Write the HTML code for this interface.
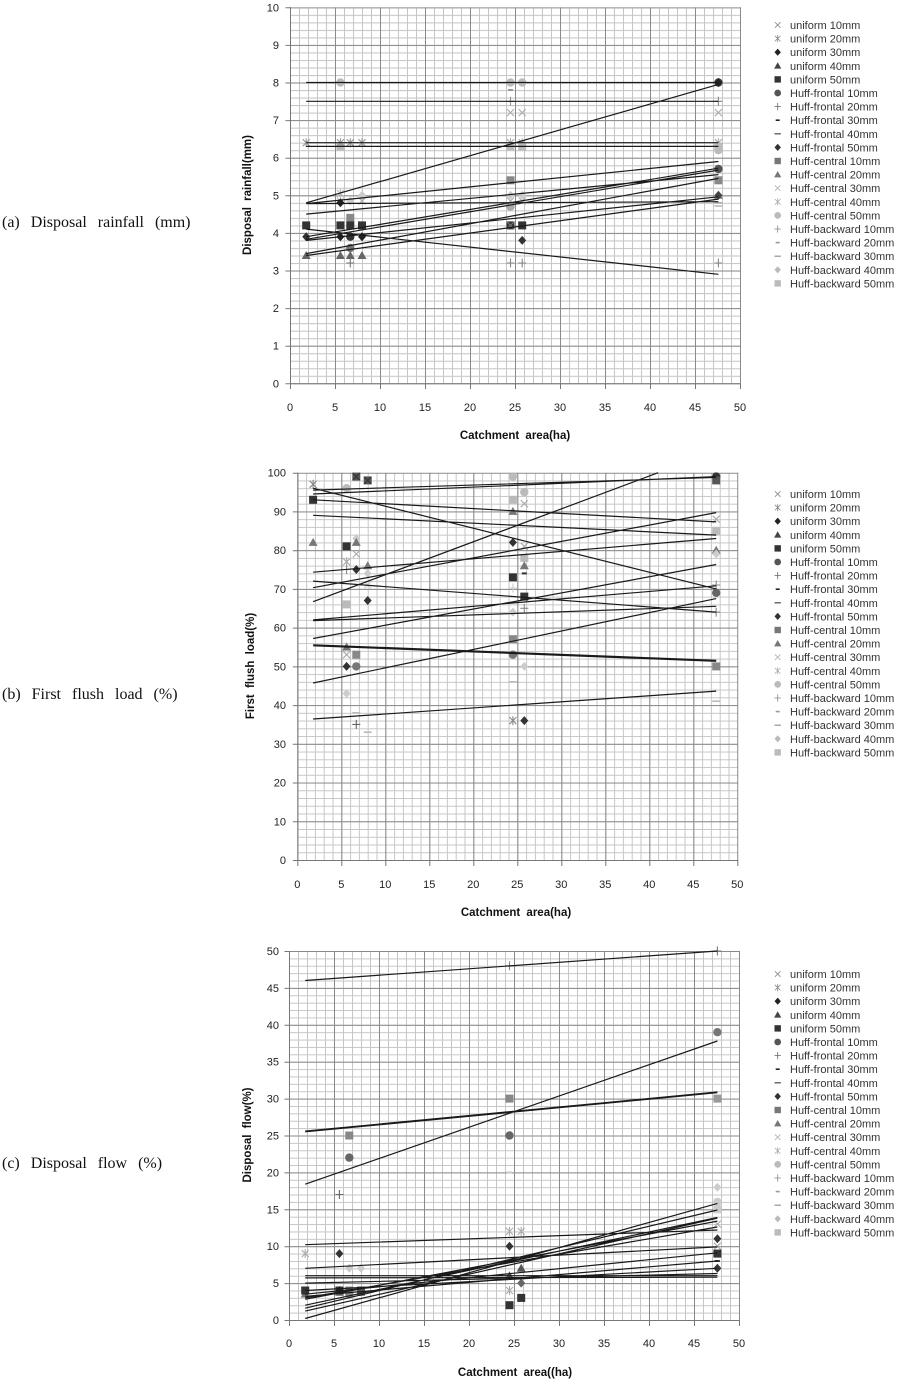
<!DOCTYPE html>
<html><head><meta charset="utf-8"><style>
html,body{margin:0;padding:0;background:#fff;}
svg{display:block;}
.tk{font-family:"Liberation Sans",sans-serif;font-size:11px;fill:#222;}
.tt{font-family:"Liberation Sans",sans-serif;font-size:11.5px;font-weight:bold;fill:#111;word-spacing:3px;}
.lg{font-family:"Liberation Sans",sans-serif;font-size:11px;fill:#333;}
.cap{font-family:"Liberation Serif",serif;font-size:16px;fill:#111;word-spacing:7px;}
</style></head><body>
<svg width="904" height="1380" viewBox="0 0 904 1380" xmlns="http://www.w3.org/2000/svg" xmlns:xlink="http://www.w3.org/1999/xlink">
<defs>
<pattern id="mna" x="290" y="7.3" width="9" height="7.52" patternUnits="userSpaceOnUse"><path d="M0.5,0V7.52M0,0.5H9" stroke="#c6c6c6" fill="none"/></pattern>
<pattern id="mja" x="290" y="7.3" width="45" height="37.6" patternUnits="userSpaceOnUse"><path d="M0.5,0V37.6M0,0.5H45" stroke="#8a8a8a" fill="none"/></pattern>
<pattern id="mnb" x="297.3" y="472.7" width="8.8" height="7.746" patternUnits="userSpaceOnUse"><path d="M0.5,0V7.746M0,0.5H8.8" stroke="#c6c6c6" fill="none"/></pattern>
<pattern id="mjb" x="297.3" y="472.7" width="44" height="38.73" patternUnits="userSpaceOnUse"><path d="M0.5,0V38.73M0,0.5H44" stroke="#8a8a8a" fill="none"/></pattern>
<pattern id="mnc" x="289" y="951" width="9" height="7.38" patternUnits="userSpaceOnUse"><path d="M0.5,0V7.38M0,0.5H9" stroke="#c6c6c6" fill="none"/></pattern>
<pattern id="mjc" x="289" y="951" width="45" height="36.9" patternUnits="userSpaceOnUse"><path d="M0.5,0V36.9M0,0.5H45" stroke="#8a8a8a" fill="none"/></pattern>
<path id="X" d="M-3.5,-3.5L3.5,3.5M-3.5,3.5L3.5,-3.5" fill="none"/>
<path id="A" d="M-3.5,-3.5L3.5,3.5M-3.5,3.5L3.5,-3.5M0,-4.5V4.5" fill="none"/>
<polygon id="D" points="0,-4.5 4,0 0,4.5 -4,0"/>
<polygon id="T" points="0,-4.5 4.5,3.5 -4.5,3.5"/>
<rect id="S" x="-4" y="-4" width="8" height="8"/>
<circle id="C" r="4.2"/>
<path id="P" d="M-4,0H4M0,-4.5V4.5" fill="none"/>
<rect id="d" x="-2.5" y="-1" width="5" height="2"/>
<rect id="L" x="-4" y="-0.8" width="8" height="1.6"/>
</defs>

<!-- captions -->
<text class="cap" x="2" y="227">(a) Disposal rainfall (mm)</text>
<text class="cap" x="2" y="699">(b) First flush load (%)</text>
<text class="cap" x="2" y="1168">(c) Disposal flow (%)</text>

<!-- ============ CHART A ============ -->
<rect x="290" y="7.3" width="451" height="377" fill="url(#mna)"/>
<rect x="290" y="7.3" width="451" height="377" fill="url(#mja)"/>
<path d="M290.5,7.3V384M290,383.8H741" stroke="#777" fill="none"/>
<path d="M290.5,384v5M335.5,384v5M380.5,384v5M425.5,384v5M470.5,384v5M515.5,384v5M560.5,384v5M605.5,384v5M650.5,384v5M695.5,384v5M740.5,384v5M285.5,7.8h5M285.5,45.4h5M285.5,83h5M285.5,120.6h5M285.5,158.2h5M285.5,195.8h5M285.5,233.4h5M285.5,271h5M285.5,308.6h5M285.5,346.2h5M285.5,383.8h5" stroke="#777" fill="none"/>
<g class="tk" text-anchor="end">
<text x="279" y="11.3">10</text><text x="279" y="48.9">9</text><text x="279" y="86.5">8</text><text x="279" y="124.1">7</text><text x="279" y="161.7">6</text><text x="279" y="199.3">5</text><text x="279" y="236.9">4</text><text x="279" y="274.5">3</text><text x="279" y="312.1">2</text><text x="279" y="349.7">1</text><text x="279" y="387.3">0</text>
</g>
<g class="tk" text-anchor="middle">
<text x="290" y="411">0</text><text x="335" y="411">5</text><text x="380" y="411">10</text><text x="425" y="411">15</text><text x="470" y="411">20</text><text x="515" y="411">25</text><text x="560" y="411">30</text><text x="605" y="411">35</text><text x="650" y="411">40</text><text x="695" y="411">45</text><text x="740" y="411">50</text>
</g>
<text class="tt" x="515" y="439" text-anchor="middle">Catchment area(ha)</text>
<text class="tt" transform="translate(251,195) rotate(-90)" text-anchor="middle">Disposal rainfall(mm)</text>

<g stroke-width="1.1">
<use href="#A" x="306.2" y="142.7" stroke="#999"/>
<use href="#S" x="306.2" y="225.4" fill="#333"/>
<use href="#D" x="306.2" y="236.7" fill="#333"/>
<use href="#T" x="306.2" y="255.5" fill="#666"/>

<use href="#C" x="340.4" y="82.5" fill="#bbb"/>
<use href="#S" x="340.4" y="146.4" fill="#bbb"/>
<use href="#A" x="340.4" y="142.7" stroke="#999"/>
<use href="#A" x="340.4" y="193.4" stroke="#bbb"/>
<use href="#X" x="340.4" y="201" stroke="#bbb"/>
<use href="#D" x="340.4" y="202.8" fill="#222"/>
<use href="#S" x="340.4" y="225.4" fill="#333"/>
<use href="#D" x="340.4" y="236.7" fill="#222"/>
<use href="#T" x="340.4" y="255.5" fill="#666"/>

<use href="#A" x="350.3" y="142.7" stroke="#999"/>
<use href="#D" x="350.3" y="201" fill="#ccc"/>
<use href="#S" x="350.3" y="217.9" fill="#888"/>
<use href="#S" x="350.3" y="225.4" fill="#333"/>
<use href="#C" x="350.3" y="236.7" fill="#333"/>
<use href="#C" x="350.3" y="248" fill="#777"/>
<use href="#T" x="350.3" y="255.5" fill="#666"/>
<use href="#P" x="350.3" y="263" stroke="#777"/>

<use href="#A" x="362" y="142.7" stroke="#999"/>
<use href="#D" x="362" y="195.3" fill="#ccc"/>
<use href="#X" x="362" y="201" stroke="#aaa"/>
<use href="#S" x="362" y="225.4" fill="#333"/>
<use href="#D" x="362" y="236.7" fill="#222"/>
<use href="#T" x="362" y="255.5" fill="#666"/>

<use href="#C" x="510.5" y="82.5" fill="#bbb"/>
<use href="#d" x="510.5" y="90" fill="#999"/>
<use href="#P" x="510.5" y="101.3" stroke="#999"/>
<use href="#X" x="510.5" y="112.6" stroke="#aaa"/>
<use href="#A" x="510.5" y="142.7" stroke="#aaa"/>
<use href="#S" x="510.5" y="146.4" fill="#bbb"/>
<use href="#S" x="510.5" y="180.3" fill="#888"/>
<use href="#D" x="510.5" y="195.3" fill="#ccc"/>
<use href="#X" x="510.5" y="201" stroke="#aaa"/>
<use href="#C" x="510.5" y="206.6" fill="#aaa"/>
<use href="#S" x="510.5" y="225.4" fill="#333"/>
<use href="#X" x="510.5" y="225.4" stroke="#777"/>
<use href="#P" x="510.5" y="263" stroke="#888"/>

<use href="#C" x="522.2" y="82.5" fill="#bbb"/>
<use href="#X" x="522.2" y="112.6" stroke="#aaa"/>
<use href="#A" x="522.2" y="142.7" stroke="#aaa"/>
<use href="#S" x="522.2" y="146.4" fill="#bbb"/>
<use href="#D" x="522.2" y="195.3" fill="#ccc"/>
<use href="#X" x="522.2" y="201" stroke="#aaa"/>
<use href="#S" x="522.2" y="225.4" fill="#333"/>
<use href="#D" x="522.2" y="240.4" fill="#333"/>
<use href="#P" x="522.2" y="263" stroke="#888"/>

<use href="#C" x="718.4" y="82.5" fill="#444"/>
<use href="#D" x="718.4" y="82.5" fill="#222"/>
<use href="#P" x="718.4" y="101.3" stroke="#888"/>
<use href="#X" x="718.4" y="112.6" stroke="#aaa"/>
<use href="#A" x="718.4" y="142.7" stroke="#aaa"/>
<use href="#S" x="718.4" y="146.4" fill="#bbb"/>
<use href="#C" x="718.4" y="150.2" fill="#bbb"/>
<use href="#C" x="718.4" y="169" fill="#555"/>
<use href="#S" x="718.4" y="180.3" fill="#888"/>
<use href="#T" x="718.4" y="195.3" fill="#777"/>
<use href="#D" x="718.4" y="195.3" fill="#444"/>
<use href="#L" x="718.4" y="202.8" fill="#aaa"/>
<use href="#L" x="718.4" y="206" fill="#bbb"/>
<use href="#P" x="718.4" y="263" stroke="#888"/>
</g>
<path d="M306.2,82.5H718.4M306.2,101.3H718.4M306.2,142.7H718.4M306.2,146.4H718.4M306.2,202.8L718.4,84.4M306.2,203.6L718.4,161.5M306.2,203.6L718.4,201.7M306.2,214.1L718.4,174.6M306.2,229.1L718.4,274.3M306.2,236.7L718.4,168.2M306.2,239.3L718.4,170.1M306.2,240.4L718.4,196.8M306.2,253.6L718.4,178.4M306.2,255.5L718.4,199.1" stroke="#1a1a1a" stroke-width="1.2" fill="none"/>

<!-- ============ CHART B ============ -->
<rect x="297.3" y="472.7" width="441" height="388.3" fill="url(#mnb)"/>
<rect x="297.3" y="472.7" width="441" height="388.3" fill="url(#mjb)"/>
<path d="M297.8,472.7V861M297.3,860.5H738.3" stroke="#777" fill="none"/>
<path d="M297.8,861v5M341.8,861v5M385.8,861v5M429.8,861v5M473.8,861v5M517.8,861v5M561.8,861v5M605.8,861v5M649.8,861v5M693.8,861v5M737.8,861v5M292.8,473.2h5M292.8,511.9h5M292.8,550.7h5M292.8,589.4h5M292.8,628.1h5M292.8,666.9h5M292.8,705.6h5M292.8,744.3h5M292.8,783h5M292.8,821.8h5M292.8,860.5h5" stroke="#777" fill="none"/>
<g class="tk" text-anchor="end">
<text x="286" y="476.7">100</text><text x="286" y="515.4">90</text><text x="286" y="554.2">80</text><text x="286" y="592.9">70</text><text x="286" y="631.6">60</text><text x="286" y="670.4">50</text><text x="286" y="709.1">40</text><text x="286" y="747.8">30</text><text x="286" y="786.5">20</text><text x="286" y="825.3">10</text><text x="286" y="864">0</text>
</g>
<g class="tk" text-anchor="middle">
<text x="297.3" y="888">0</text><text x="341.3" y="888">5</text><text x="385.3" y="888">10</text><text x="429.3" y="888">15</text><text x="473.3" y="888">20</text><text x="517.3" y="888">25</text><text x="561.3" y="888">30</text><text x="605.3" y="888">35</text><text x="649.3" y="888">40</text><text x="693.3" y="888">45</text><text x="737.3" y="888">50</text>
</g>
<text class="tt" x="516" y="916" text-anchor="middle">Catchment area(ha)</text>
<text class="tt" transform="translate(254,666) rotate(-90)" text-anchor="middle">First flush load(%)</text>

<g stroke-width="1.1">
<use href="#A" x="313.1" y="484.3" stroke="#888"/>
<use href="#S" x="313.1" y="499.8" fill="#333"/>
<use href="#T" x="313.1" y="542.4" fill="#777"/>

<use href="#C" x="346.6" y="488.2" fill="#bbb"/>
<use href="#S" x="346.6" y="546.3" fill="#333"/>
<use href="#A" x="346.6" y="561.8" stroke="#aaa"/>
<use href="#P" x="346.6" y="569.5" stroke="#888"/>
<use href="#S" x="346.6" y="604.4" fill="#bbb"/>
<use href="#T" x="346.6" y="647" fill="#777"/>
<use href="#X" x="346.6" y="654.7" stroke="#aaa"/>
<use href="#D" x="346.6" y="666.4" fill="#333"/>
<use href="#D" x="346.6" y="693.5" fill="#ccc"/>

<use href="#S" x="356.3" y="476.6" fill="#555"/>
<use href="#X" x="356.3" y="476.6" stroke="#333"/>
<use href="#D" x="356.3" y="538.5" fill="#ccc"/>
<use href="#T" x="356.3" y="542.4" fill="#777"/>
<use href="#X" x="356.3" y="554" stroke="#aaa"/>
<use href="#D" x="356.3" y="569.5" fill="#333"/>
<use href="#S" x="356.3" y="654.7" fill="#888"/>
<use href="#C" x="356.3" y="666.4" fill="#777"/>
<use href="#L" x="356.3" y="712.8" fill="#bbb"/>
<use href="#P" x="356.3" y="724.4" stroke="#666"/>

<use href="#S" x="367.7" y="480.4" fill="#555"/>
<use href="#X" x="367.7" y="480.4" stroke="#333"/>
<use href="#T" x="367.7" y="565.7" fill="#777"/>
<use href="#D" x="367.7" y="573.4" fill="#ccc"/>
<use href="#X" x="367.7" y="585" stroke="#ccc"/>
<use href="#D" x="367.7" y="600.5" fill="#333"/>
<use href="#L" x="367.7" y="732.2" fill="#bbb"/>

<use href="#C" x="512.9" y="476.6" fill="#bbb"/>
<use href="#S" x="512.9" y="499.8" fill="#bbb"/>
<use href="#T" x="512.9" y="511.4" fill="#777"/>
<use href="#D" x="512.9" y="542.4" fill="#333"/>
<use href="#S" x="512.9" y="577.3" fill="#333"/>
<use href="#P" x="512.9" y="588" stroke="#ccc"/>
<use href="#D" x="512.9" y="612.1" fill="#ccc"/>
<use href="#S" x="512.9" y="639.2" fill="#888"/>
<use href="#C" x="512.9" y="654.7" fill="#777"/>
<use href="#L" x="512.9" y="681.8" fill="#bbb"/>
<use href="#A" x="512.9" y="720.6" stroke="#888"/>

<use href="#C" x="524.3" y="492.1" fill="#bbb"/>
<use href="#X" x="524.3" y="503.7" stroke="#aaa"/>
<use href="#X" x="524.3" y="546.3" stroke="#aaa"/>
<use href="#S" x="524.3" y="557.9" fill="#bbb"/>
<use href="#T" x="524.3" y="565.7" fill="#777"/>
<use href="#d" x="524.3" y="573.4" fill="#333"/>
<use href="#S" x="524.3" y="596.6" fill="#333"/>
<use href="#P" x="524.3" y="608.3" stroke="#888"/>
<use href="#D" x="524.3" y="666.4" fill="#ccc"/>
<use href="#D" x="524.3" y="720.6" fill="#333"/>

<use href="#C" x="716.2" y="476.6" fill="#333"/>
<use href="#S" x="716.2" y="480.4" fill="#555"/>
<use href="#X" x="716.2" y="519.2" stroke="#aaa"/>
<use href="#S" x="716.2" y="530.8" fill="#bbb"/>
<use href="#T" x="716.2" y="550.2" fill="#777"/>
<use href="#D" x="716.2" y="554" fill="#ccc"/>
<use href="#P" x="716.2" y="585" stroke="#888"/>
<use href="#C" x="716.2" y="592.8" fill="#666"/>
<use href="#P" x="716.2" y="612.1" stroke="#888"/>
<use href="#S" x="716.2" y="666.4" fill="#888"/>
<use href="#L" x="716.2" y="701.2" fill="#bbb"/>
</g>
<path d="M313.1,488.2L716.2,588.9M313.1,494L716.2,476.6M313.1,490.1L716.2,477.4M313.1,499.8L716.2,521.9M313.1,515.3L716.2,535.1M313.1,572.2L716.2,538.5M313.1,587.7L716.2,512.6M313.1,601.7L658.1,472.7M313.1,581.1L716.2,612.1M313.1,619.9L716.2,585.8M313.1,620.6L716.2,606.3M313.1,638.5L716.2,564.5M313.1,645.8L716.2,661.3M313.1,644.8L716.2,660.3M313.1,683L716.2,598.6M313.1,719L716.2,691.1" stroke="#1a1a1a" stroke-width="1.2" fill="none"/>

<!-- ============ CHART C ============ -->
<rect x="289" y="951" width="451" height="370" fill="url(#mnc)"/>
<rect x="289" y="951" width="451" height="370" fill="url(#mjc)"/>
<path d="M289.5,951V1321M289,1320.5H740" stroke="#777" fill="none"/>
<path d="M289.5,1321v5M334.5,1321v5M379.5,1321v5M424.5,1321v5M469.5,1321v5M514.5,1321v5M559.5,1321v5M604.5,1321v5M649.5,1321v5M694.5,1321v5M739.5,1321v5M284.5,951.5h5M284.5,988.4h5M284.5,1025.3h5M284.5,1062.2h5M284.5,1099.1h5M284.5,1136h5M284.5,1172.9h5M284.5,1209.8h5M284.5,1246.7h5M284.5,1283.6h5M284.5,1320.5h5" stroke="#777" fill="none"/>
<g class="tk" text-anchor="end">
<text x="279" y="955">50</text><text x="279" y="991.9">45</text><text x="279" y="1028.8">40</text><text x="279" y="1065.7">35</text><text x="279" y="1102.6">30</text><text x="279" y="1139.5">25</text><text x="279" y="1176.4">20</text><text x="279" y="1213.3">15</text><text x="279" y="1250.2">10</text><text x="279" y="1287.1">5</text><text x="279" y="1324">0</text>
</g>
<g class="tk" text-anchor="middle">
<text x="289" y="1347">0</text><text x="334" y="1347">5</text><text x="379" y="1347">10</text><text x="424" y="1347">15</text><text x="469" y="1347">20</text><text x="514" y="1347">25</text><text x="559" y="1347">30</text><text x="604" y="1347">35</text><text x="649" y="1347">40</text><text x="694" y="1347">45</text><text x="739" y="1347">50</text>
</g>
<text class="tt" x="515" y="1376" text-anchor="middle">Catchment area((ha)</text>
<text class="tt" transform="translate(251,1135) rotate(-90)" text-anchor="middle">Disposal flow(%)</text>

<g stroke-width="1.1">
<use href="#A" x="305.2" y="1253.6" stroke="#aaa"/>
<use href="#T" x="305.2" y="1294" fill="#777"/>
<use href="#S" x="305.2" y="1290.5" fill="#333"/>

<use href="#P" x="339.4" y="1194.5" stroke="#666"/>
<use href="#D" x="339.4" y="1253.6" fill="#333"/>
<use href="#S" x="339.4" y="1292" fill="#888"/>
<use href="#S" x="339.4" y="1290.5" fill="#333"/>
<use href="#D" x="339.4" y="1290.5" fill="#222"/>

<use href="#S" x="349.3" y="1135.5" fill="#888"/>
<use href="#C" x="349.3" y="1157.6" fill="#666"/>
<use href="#D" x="349.3" y="1268.3" fill="#ccc"/>
<use href="#S" x="349.3" y="1290.5" fill="#888"/>
<use href="#C" x="349.3" y="1294.2" fill="#888"/>

<use href="#D" x="361" y="1268.3" fill="#ccc"/>
<use href="#S" x="361" y="1292" fill="#888"/>
<use href="#S" x="361" y="1290.5" fill="#555"/>

<use href="#P" x="509.5" y="965.8" stroke="#888"/>
<use href="#S" x="509.5" y="1098.6" fill="#888"/>
<use href="#C" x="509.5" y="1135.5" fill="#666"/>
<use href="#d" x="509.5" y="1172.4" fill="#ccc"/>
<use href="#A" x="509.5" y="1231.4" stroke="#aaa"/>
<use href="#D" x="509.5" y="1246.2" fill="#333"/>
<use href="#T" x="509.5" y="1275.7" fill="#555"/>
<use href="#A" x="509.5" y="1290.5" stroke="#aaa"/>
<use href="#S" x="509.5" y="1305.2" fill="#333"/>

<use href="#A" x="521.2" y="1231.4" stroke="#aaa"/>
<use href="#T" x="521.2" y="1268.3" fill="#555"/>
<use href="#D" x="521.2" y="1283.1" fill="#666"/>
<use href="#S" x="521.2" y="1297.9" fill="#333"/>

<use href="#P" x="717.4" y="951" stroke="#777"/>
<use href="#C" x="717.4" y="1032.2" fill="#777"/>
<use href="#S" x="717.4" y="1098.6" fill="#999"/>
<use href="#D" x="717.4" y="1187.2" fill="#ccc"/>
<use href="#C" x="717.4" y="1201.9" fill="#ccc"/>
<use href="#S" x="717.4" y="1209.3" fill="#ccc"/>
<use href="#X" x="717.4" y="1224.1" stroke="#aaa"/>
<use href="#D" x="717.4" y="1238.8" fill="#333"/>
<use href="#X" x="717.4" y="1246.2" stroke="#aaa"/>
<use href="#S" x="717.4" y="1253.6" fill="#333"/>
<use href="#d" x="717.4" y="1261" fill="#333"/>
<use href="#D" x="717.4" y="1268.3" fill="#333"/>
</g>
<path d="M305.2,980.5L717.4,951M305.2,1131.8L717.4,1092.7M305.2,1131.1L717.4,1092M305.2,1184.2L717.4,1041M305.2,1244.7L717.4,1230M305.2,1268.3L717.4,1246.9M305.2,1275.7H717.4M305.2,1277.9L717.4,1277.2M305.2,1283.1L717.4,1273.5M305.2,1290.5L717.4,1268.3M305.2,1294.2L717.4,1252.8M305.2,1296.4L717.4,1261M305.2,1297.9L717.4,1227M305.2,1299.3L717.4,1221.1M305.2,1305.2L717.4,1217.4M305.2,1308.2L717.4,1210M305.2,1311.1L717.4,1218.2M305.2,1318.5L717.4,1203.4" stroke="#1a1a1a" stroke-width="1.2" fill="none"/>

<!-- ============ LEGENDS ============ -->
<g transform="translate(0,25)">
<g stroke-width="1">
<use href="#X" transform="translate(777.7,0) scale(0.8)" stroke="#888"/>
<use href="#A" transform="translate(777.7,13.6) scale(0.8)" stroke="#888"/>
<use href="#D" transform="translate(777.7,27.2) scale(0.8)" fill="#222"/>
<use href="#T" transform="translate(777.7,40.8) scale(0.8)" fill="#444"/>
<use href="#S" transform="translate(777.7,54.4) scale(0.8)" fill="#333"/>
<use href="#C" transform="translate(777.7,68) scale(0.8)" fill="#555"/>
<use href="#P" transform="translate(777.7,81.6) scale(0.8)" stroke="#666"/>
<use href="#d" transform="translate(777.7,95.2) scale(0.8)" fill="#222"/>
<use href="#L" transform="translate(777.7,108.8) scale(0.8)" fill="#555"/>
<use href="#D" transform="translate(777.7,122.4) scale(0.8)" fill="#333"/>
<use href="#S" transform="translate(777.7,136) scale(0.8)" fill="#777"/>
<use href="#T" transform="translate(777.7,149.6) scale(0.8)" fill="#777"/>
<use href="#X" transform="translate(777.7,163.2) scale(0.8)" stroke="#aaa"/>
<use href="#A" transform="translate(777.7,176.8) scale(0.8)" stroke="#aaa"/>
<use href="#C" transform="translate(777.7,190.4) scale(0.8)" fill="#bbb"/>
<use href="#P" transform="translate(777.7,204) scale(0.8)" stroke="#888"/>
<use href="#d" transform="translate(777.7,217.6) scale(0.8)" fill="#999"/>
<use href="#L" transform="translate(777.7,231.2) scale(0.8)" fill="#999"/>
<use href="#D" transform="translate(777.7,244.8) scale(0.8)" fill="#bbb"/>
<use href="#S" transform="translate(777.7,258.4) scale(0.8)" fill="#bbb"/>
</g>
<g class="lg">
<text x="790" y="4">uniform 10mm</text><text x="790" y="17.6">uniform 20mm</text><text x="790" y="31.2">uniform 30mm</text><text x="790" y="44.8">uniform 40mm</text><text x="790" y="58.4">uniform 50mm</text><text x="790" y="72">Huff-frontal 10mm</text><text x="790" y="85.6">Huff-frontal 20mm</text><text x="790" y="99.2">Huff-frontal 30mm</text><text x="790" y="112.8">Huff-frontal 40mm</text><text x="790" y="126.4">Huff-frontal 50mm</text><text x="790" y="140">Huff-central 10mm</text><text x="790" y="153.6">Huff-central 20mm</text><text x="790" y="167.2">Huff-central 30mm</text><text x="790" y="180.8">Huff-central 40mm</text><text x="790" y="194.4">Huff-central 50mm</text><text x="790" y="208">Huff-backward 10mm</text><text x="790" y="221.6">Huff-backward 20mm</text><text x="790" y="235.2">Huff-backward 30mm</text><text x="790" y="248.8">Huff-backward 40mm</text><text x="790" y="262.4">Huff-backward 50mm</text>
</g>
</g>

<g transform="translate(0,494)">
<g stroke-width="1">
<use href="#X" transform="translate(777.7,0) scale(0.8)" stroke="#888"/>
<use href="#A" transform="translate(777.7,13.6) scale(0.8)" stroke="#888"/>
<use href="#D" transform="translate(777.7,27.2) scale(0.8)" fill="#222"/>
<use href="#T" transform="translate(777.7,40.8) scale(0.8)" fill="#444"/>
<use href="#S" transform="translate(777.7,54.4) scale(0.8)" fill="#333"/>
<use href="#C" transform="translate(777.7,68) scale(0.8)" fill="#555"/>
<use href="#P" transform="translate(777.7,81.6) scale(0.8)" stroke="#666"/>
<use href="#d" transform="translate(777.7,95.2) scale(0.8)" fill="#222"/>
<use href="#L" transform="translate(777.7,108.8) scale(0.8)" fill="#555"/>
<use href="#D" transform="translate(777.7,122.4) scale(0.8)" fill="#333"/>
<use href="#S" transform="translate(777.7,136) scale(0.8)" fill="#777"/>
<use href="#T" transform="translate(777.7,149.6) scale(0.8)" fill="#777"/>
<use href="#X" transform="translate(777.7,163.2) scale(0.8)" stroke="#aaa"/>
<use href="#A" transform="translate(777.7,176.8) scale(0.8)" stroke="#aaa"/>
<use href="#C" transform="translate(777.7,190.4) scale(0.8)" fill="#bbb"/>
<use href="#P" transform="translate(777.7,204) scale(0.8)" stroke="#888"/>
<use href="#d" transform="translate(777.7,217.6) scale(0.8)" fill="#999"/>
<use href="#L" transform="translate(777.7,231.2) scale(0.8)" fill="#999"/>
<use href="#D" transform="translate(777.7,244.8) scale(0.8)" fill="#bbb"/>
<use href="#S" transform="translate(777.7,258.4) scale(0.8)" fill="#bbb"/>
</g>
<g class="lg">
<text x="790" y="4">uniform 10mm</text><text x="790" y="17.6">uniform 20mm</text><text x="790" y="31.2">uniform 30mm</text><text x="790" y="44.8">uniform 40mm</text><text x="790" y="58.4">uniform 50mm</text><text x="790" y="72">Huff-frontal 10mm</text><text x="790" y="85.6">Huff-frontal 20mm</text><text x="790" y="99.2">Huff-frontal 30mm</text><text x="790" y="112.8">Huff-frontal 40mm</text><text x="790" y="126.4">Huff-frontal 50mm</text><text x="790" y="140">Huff-central 10mm</text><text x="790" y="153.6">Huff-central 20mm</text><text x="790" y="167.2">Huff-central 30mm</text><text x="790" y="180.8">Huff-central 40mm</text><text x="790" y="194.4">Huff-central 50mm</text><text x="790" y="208">Huff-backward 10mm</text><text x="790" y="221.6">Huff-backward 20mm</text><text x="790" y="235.2">Huff-backward 30mm</text><text x="790" y="248.8">Huff-backward 40mm</text><text x="790" y="262.4">Huff-backward 50mm</text>
</g>
</g>

<g transform="translate(0,974)">
<g stroke-width="1">
<use href="#X" transform="translate(777.7,0) scale(0.8)" stroke="#888"/>
<use href="#A" transform="translate(777.7,13.6) scale(0.8)" stroke="#888"/>
<use href="#D" transform="translate(777.7,27.2) scale(0.8)" fill="#222"/>
<use href="#T" transform="translate(777.7,40.8) scale(0.8)" fill="#444"/>
<use href="#S" transform="translate(777.7,54.4) scale(0.8)" fill="#333"/>
<use href="#C" transform="translate(777.7,68) scale(0.8)" fill="#555"/>
<use href="#P" transform="translate(777.7,81.6) scale(0.8)" stroke="#666"/>
<use href="#d" transform="translate(777.7,95.2) scale(0.8)" fill="#222"/>
<use href="#L" transform="translate(777.7,108.8) scale(0.8)" fill="#555"/>
<use href="#D" transform="translate(777.7,122.4) scale(0.8)" fill="#333"/>
<use href="#S" transform="translate(777.7,136) scale(0.8)" fill="#777"/>
<use href="#T" transform="translate(777.7,149.6) scale(0.8)" fill="#777"/>
<use href="#X" transform="translate(777.7,163.2) scale(0.8)" stroke="#aaa"/>
<use href="#A" transform="translate(777.7,176.8) scale(0.8)" stroke="#aaa"/>
<use href="#C" transform="translate(777.7,190.4) scale(0.8)" fill="#bbb"/>
<use href="#P" transform="translate(777.7,204) scale(0.8)" stroke="#888"/>
<use href="#d" transform="translate(777.7,217.6) scale(0.8)" fill="#999"/>
<use href="#L" transform="translate(777.7,231.2) scale(0.8)" fill="#999"/>
<use href="#D" transform="translate(777.7,244.8) scale(0.8)" fill="#bbb"/>
<use href="#S" transform="translate(777.7,258.4) scale(0.8)" fill="#bbb"/>
</g>
<g class="lg">
<text x="790" y="4">uniform 10mm</text><text x="790" y="17.6">uniform 20mm</text><text x="790" y="31.2">uniform 30mm</text><text x="790" y="44.8">uniform 40mm</text><text x="790" y="58.4">uniform 50mm</text><text x="790" y="72">Huff-frontal 10mm</text><text x="790" y="85.6">Huff-frontal 20mm</text><text x="790" y="99.2">Huff-frontal 30mm</text><text x="790" y="112.8">Huff-frontal 40mm</text><text x="790" y="126.4">Huff-frontal 50mm</text><text x="790" y="140">Huff-central 10mm</text><text x="790" y="153.6">Huff-central 20mm</text><text x="790" y="167.2">Huff-central 30mm</text><text x="790" y="180.8">Huff-central 40mm</text><text x="790" y="194.4">Huff-central 50mm</text><text x="790" y="208">Huff-backward 10mm</text><text x="790" y="221.6">Huff-backward 20mm</text><text x="790" y="235.2">Huff-backward 30mm</text><text x="790" y="248.8">Huff-backward 40mm</text><text x="790" y="262.4">Huff-backward 50mm</text>
</g>
</g>
</svg>
</body></html>
